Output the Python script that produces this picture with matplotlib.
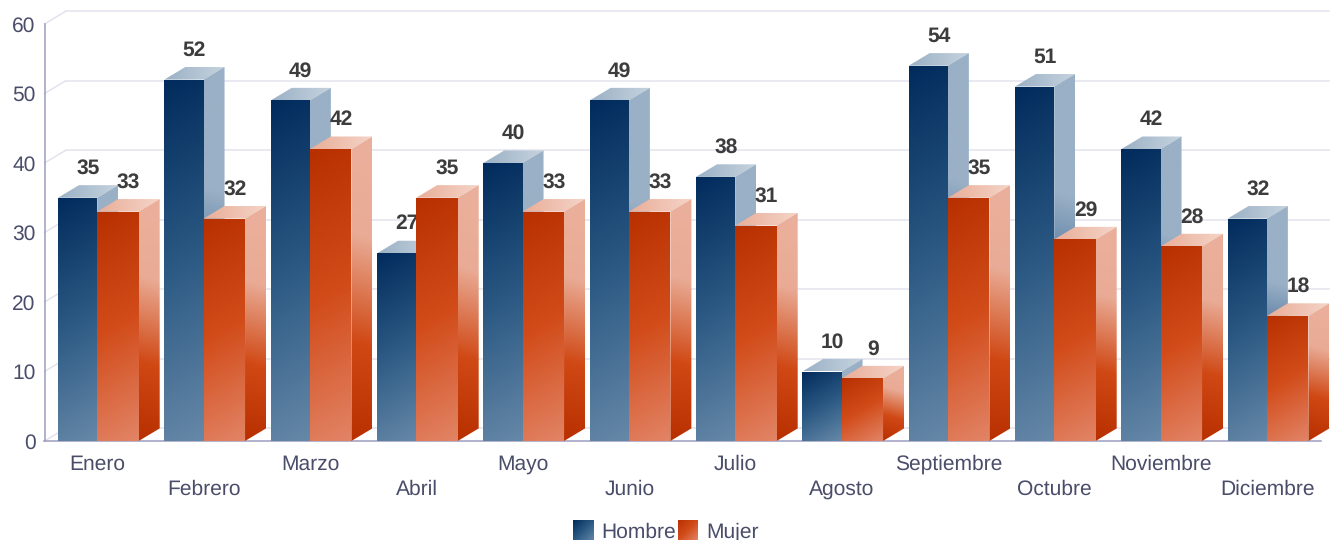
import numpy as np
import matplotlib

matplotlib.use("Agg")
import matplotlib.pyplot as plt
from matplotlib.colors import LinearSegmentedColormap
from matplotlib.patches import Polygon

months = [
    "Enero", "Febrero", "Marzo", "Abril", "Mayo", "Junio",
    "Julio", "Agosto", "Septiembre", "Octubre", "Noviembre", "Diciembre",
]
hombre = [35, 52, 49, 27, 40, 49, 38, 10, 54, 51, 42, 32]
mujer = [33, 32, 42, 35, 33, 33, 31, 9, 35, 29, 28, 18]
y_ticks = [0, 10, 20, 30, 40, 50, 60]

FIG_W, FIG_H = 1330, 540
AX_LEFT, AX_RIGHT, AX_TOP, AX_BOTTOM = 44.5, 1320.5, 24.0, 441.0
PX_X = (AX_RIGHT - AX_LEFT) / len(months)
PX_Y = (AX_BOTTOM - AX_TOP) / 60
DEPTH_X = 21 / PX_X
DEPTH_Y = 12.6 / PX_Y
BAR_START = -0.5 + 13.5 / PX_X
MALE_W = 39.2 / PX_X
FEMALE_W = 41.5 / PX_X

TEXT = "#4a4d6a"
LABEL = "#3c3c3c"
GRID = "#e3e3ef"
AXIS = "#9c9cbe"

male_front = LinearSegmentedColormap.from_list("mf", ["#012b5c", "#2b5983", "#6688a8"])
male_side = LinearSegmentedColormap.from_list(
    "ms", [(0, "#9ab0c6"), (0.33, "#9ab0c6"), (0.68, "#2a5a88"), (1, "#012b5c")]
)
male_top = LinearSegmentedColormap.from_list("mt", ["#9bb1c6", "#c6d3de"])
female_front = LinearSegmentedColormap.from_list(
    "ff", [(0, "#b83000"), (0.5, "#d24c1a"), (1, "#e28466")]
)
female_side = LinearSegmentedColormap.from_list(
    "fs", [(0, "#ebb09c"), (0.33, "#e9ab95"), (0.68, "#d04814"), (1, "#b83000")]
)
female_top = LinearSegmentedColormap.from_list("ft", ["#e9ae98", "#f5d4c8"])


def gradient(w_px, h_px, angle):
    # 0 at the top corner, 1 at the opposite one, tilted by angle from vertical
    xs, ys = np.meshgrid(np.linspace(0, w_px, 80), np.linspace(0, h_px, 160))
    s, c = np.sin(np.radians(angle)), np.cos(np.radians(angle))
    t = xs * s + ys * c
    return (t - t.min()) / (t.max() - t.min())


def paint(ax, points, cmap, angle, zorder):
    points = np.array(points)
    x0, y0 = points.min(axis=0)
    x1, y1 = points.max(axis=0)
    grad = gradient((x1 - x0) * PX_X, (y1 - y0) * PX_Y, angle)
    im = ax.imshow(
        grad, cmap=cmap, vmin=0, vmax=1, extent=(x0, x1, y0, y1), origin="upper",
        aspect="auto", interpolation="bilinear", zorder=zorder,
    )
    im.set_clip_path(Polygon(points, closed=True, transform=ax.transData))
    im.set_clip_box(ax.figure.bbox)


def draw_bar(ax, x, width, value, cmaps, zorder):
    front, side, top = cmaps
    dx, dy = DEPTH_X, DEPTH_Y
    right = x + width
    paint(ax, [(x, value), (x + dx, value + dy), (right + dx, value + dy), (right, value)],
          top, 90, zorder)
    paint(ax, [(right, 0), (right, value), (right + dx, value + dy), (right + dx, dy)],
          side, -15, zorder + 0.1)
    paint(ax, [(x, 0), (x, value), (right, value), (right, 0)], front, 30, zorder + 0.2)
    ax.text(
        x + width / 2 + dx / 2, value + dy + 7 / PX_Y, str(value), ha="center", va="bottom",
        fontsize=15, fontweight="bold", color=LABEL, zorder=zorder + 0.3, clip_on=False,
    )


def draw_walls(ax):
    for tick in y_ticks:
        ax.plot([-0.5, -0.5 + DEPTH_X], [tick, tick + DEPTH_Y], color=GRID, lw=1.1,
                clip_on=False, zorder=1)
        ax.plot([-0.5 + DEPTH_X, 11.5 + DEPTH_X], [tick + DEPTH_Y, tick + DEPTH_Y], color=GRID,
                lw=1.1, clip_on=False, zorder=1)


def draw_legend(fig):
    entries = [
        ("Hombre", male_front, 573, 21, 601),
        ("Mujer", female_front, 678, 20, 706),
    ]
    for name, cmap, left, size, text_x in entries:
        swatch = fig.add_axes([left / FIG_W, (FIG_H - 520 - size) / FIG_H, size / FIG_W, size / FIG_H])
        swatch.imshow(gradient(size, size, 45), cmap=cmap, vmin=0, vmax=1, aspect="auto")
        swatch.axis("off")
        fig.text(text_x / FIG_W, 1 - 532.5 / FIG_H, name, fontsize=15.3, color=TEXT, va="center", ha="left")


def main():
    plt.rcParams["font.family"] = ["Liberation Sans", "DejaVu Sans"]
    plt.rcParams["text.hinting"] = "no_hinting"
    plt.rcParams["text.hinting_factor"] = 1
    fig = plt.figure(figsize=(FIG_W / 100, FIG_H / 100), dpi=100)
    ax = fig.add_axes([
        AX_LEFT / FIG_W,
        1 - AX_BOTTOM / FIG_H,
        (AX_RIGHT - AX_LEFT) / FIG_W,
        (AX_BOTTOM - AX_TOP) / FIG_H,
    ])

    draw_walls(ax)
    for i, month in enumerate(months):
        x = i + BAR_START
        base = 3 + i * 2
        draw_bar(ax, x, MALE_W, hombre[i], (male_front, male_side, male_top), base)
        draw_bar(ax, x + MALE_W, FEMALE_W, mujer[i], (female_front, female_side, female_top), base + 1)

    ax.set_xlim(-0.5, 11.5)
    ax.set_ylim(0, 60)
    ax.set_yticks(y_ticks)
    ax.set_xticks(range(len(months)))
    ax.set_xticklabels(months)
    ax.tick_params(axis="both", length=0, labelsize=15.3, labelcolor=TEXT)
    ax.tick_params(axis="y", pad=6.5)
    for i, tick in enumerate(ax.xaxis.get_major_ticks()):
        tick.set_pad(10 if i % 2 == 0 else 27.5)

    ax.patch.set_visible(False)
    ax.spines["top"].set_visible(False)
    ax.spines["right"].set_visible(False)
    for side in ("left", "bottom"):
        ax.spines[side].set_color(AXIS)
        ax.spines[side].set_linewidth(1.1)
        ax.spines[side].set_zorder(2)

    draw_legend(fig)
    fig.savefig("out.png", dpi=100)
    plt.close(fig)


if __name__ == "__main__":
    main()
